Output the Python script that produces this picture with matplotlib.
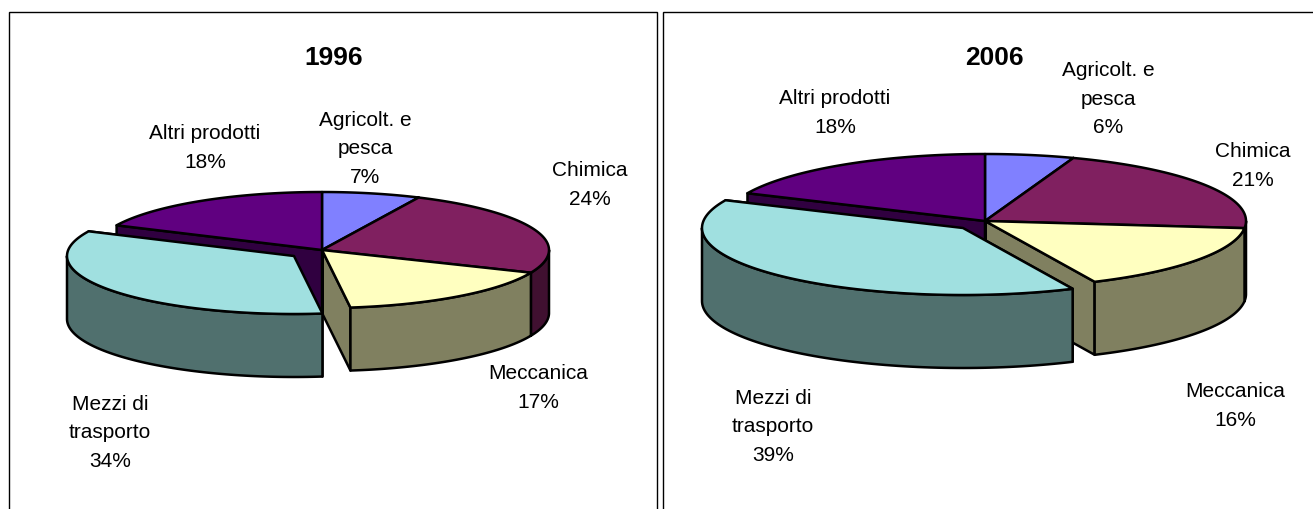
import numpy as np
import matplotlib
matplotlib.use('Agg')
import matplotlib.pyplot as plt
from matplotlib.patches import Polygon, Rectangle

plt.rcParams['font.family'] = ['Liberation Sans', 'DejaVu Sans']

# Data (shares in percent)
categories = ['Agricolt. e\npesca', 'Chimica', 'Meccanica', 'Mezzi di\ntrasporto', 'Altri prodotti']
values_1996 = [7.0, 24.4, 16.6, 34.0, 18.0]
values_2006 = [5.5, 21.2, 16.4, 38.7, 18.2]

top_colors = ['#8080FF', '#802060', '#FFFFC0', '#A0E0E0', '#600080']
side_colors = ['#404080', '#401030', '#808060', '#50706E', '#300040']
EXPLODED = 3  # Mezzi di trasporto is pulled out in both charts
LW = 1.8


def rim(cx, cy, rx, ry, t):
    # t in degrees, clockwise from the top of the pie
    t = np.radians(t)
    return np.column_stack([cx + rx * np.sin(t), cy - ry * np.cos(t)])


def draw_pie(ax, values, cx, cy, rx, ry, depth, offset):
    bounds = np.cumsum([0] + list(values)) / sum(values) * 360
    slices = []
    for i in range(len(values)):
        dx, dy = offset if i == EXPLODED else (0, 0)
        slices.append((i, bounds[i], bounds[i + 1], cx + dx, cy + dy))

    # cut faces first, the tops cover whatever is hidden
    for i, t0, t1, x, y in slices:
        for t in (t0, t1):
            p = rim(x, y, rx, ry, [t])[0]
            face = [(x, y), p, (p[0], p[1] + depth), (x, y + depth)]
            ax.add_patch(Polygon(face, closed=True, fc=side_colors[i], ec='black', lw=LW, joinstyle='round'))

    # outer walls, only the front half of the rim shows
    for i, t0, t1, x, y in slices:
        a, b = max(t0, 90), min(t1, 270)
        if a >= b:
            continue
        arc = rim(x, y, rx, ry, np.linspace(a, b, 80))
        wall = np.vstack([arc, arc[::-1] + [0, depth]])
        ax.add_patch(Polygon(wall, closed=True, fc=side_colors[i], ec='black', lw=LW, joinstyle='round'))

    # tops, exploded slice last
    for i, t0, t1, x, y in sorted(slices, key=lambda s: s[0] == EXPLODED):
        arc = rim(x, y, rx, ry, np.linspace(t0, t1, 120))
        top = np.vstack([[x, y], arc])
        ax.add_patch(Polygon(top, closed=True, fc=top_colors[i], ec='black', lw=LW, joinstyle='round'))


def add_labels(ax, values, positions):
    for name, val, (x, y) in zip(categories, values, positions):
        ax.text(x, y, f'{name}\n{val:.0f}%', ha='center', va='center', fontsize=15, linespacing=1.62)


fig = plt.figure(figsize=(13.13, 5.09), dpi=100)
ax = fig.add_axes([0, 0, 1, 1])
ax.set_xlim(0, 1313)
ax.set_ylim(509, 0)
ax.axis('off')

# chart frames run off the bottom of the image
ax.add_patch(Rectangle((9, 12), 648, 520, fc='white', ec='black', lw=1))
ax.add_patch(Rectangle((663, 12), 660, 520, fc='white', ec='black', lw=1))

draw_pie(ax, values_1996, 322, 250, 227, 58, 63, (-28, 6))
draw_pie(ax, values_2006, 985, 221, 261, 67, 73, (-22, 7))

ax.text(333.5, 57.5, '1996', ha='center', va='center', fontsize=19, fontweight='bold')
ax.text(994.5, 57.5, '2006', ha='center', va='center', fontsize=19, fontweight='bold')

add_labels(ax, values_1996, [(365, 149), (590, 185), (538, 388), (110, 433), (205, 148)])
add_labels(ax, values_2006, [(1108, 99), (1253, 166), (1235, 406), (773, 427), (835, 113)])

fig.savefig('out.png', dpi=100)
